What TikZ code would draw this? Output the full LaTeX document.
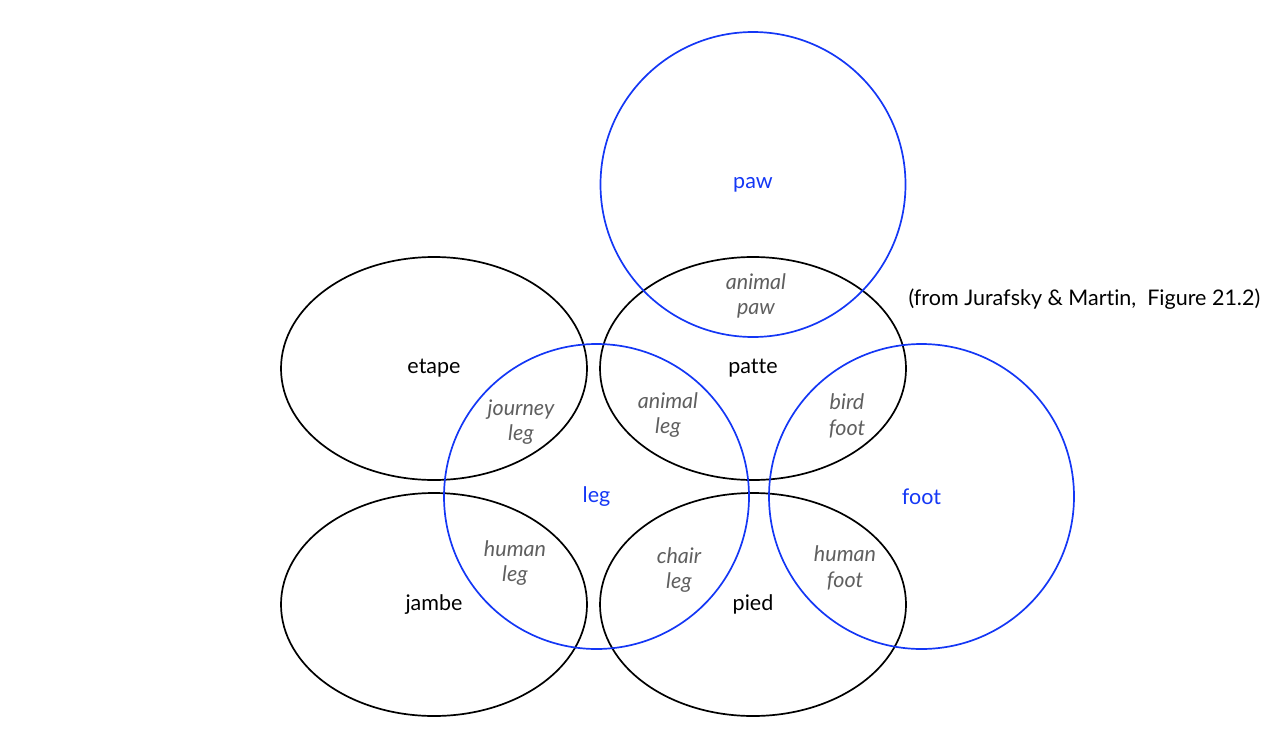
\documentclass[tikz,border=0pt]{standalone}
\usepackage{fontspec}
\setmainfont{Lato}[Ligatures=NoCommon]
\usetikzlibrary{shapes.geometric}

\definecolor{setblue}{RGB}{20,55,245}
\definecolor{sensegray}{RGB}{95,95,95}

\tikzset{
  frword/.style={draw=black, line width=1.7pt, ellipse, minimum width=306pt,
    minimum height=223pt, inner sep=0pt, font=\fontsize{21.5}{26}\selectfont},
  enword/.style={draw=setblue, text=setblue, line width=1.7pt, circle,
    minimum size=305pt, inner sep=0pt, font=\fontsize{21.5}{26}\selectfont},
  sense/.style={text=sensegray, align=center, font=\fontsize{21.5}{25.5}\selectfont\itshape},
}

\begin{document}
\begin{tikzpicture}[x=1pt,y=-1pt]
    \useasboundingbox (0,0) rectangle (1276,734);

    % French words
    \node[frword] (etape) at (434,368.5) {etape};
    \node[frword] (patte) at (753,368.5) {patte};
    \node[frword] (jambe) at (434,604.5) {jambe};
    \node[frword] (pied) at (753,604.5) {pied};

    % English words
    \node[enword] (paw) at (753,184.5) {paw};
    \node[enword] (leg) at (596.5,496.5) {leg};
    \node[enword] (foot) at (921.5,496.5) {foot};

    % senses in the overlaps
    \node[sense] (animalpaw) at (756,296) {animal\\paw};
    \node[sense] (journeyleg) at (521,422) {journey\\leg};
    \node[sense] (animalleg) at (668,415) {animal\\leg};
    \node[sense] (birdfoot) at (847,416) {bird\\foot};
    \node[sense] (humanleg) at (515,563) {human\\leg};
    \node[sense] (chairleg) at (679,570) {chair\\leg};
    \node[sense] (humanfoot) at (845,568) {human\\foot};

    \node[anchor=west, font=\fontsize{21.5}{26}\selectfont] (source) at (905,299)
      {(from Jurafsky \& Martin,\ \ Figure 21.2)};
\end{tikzpicture}
\end{document}
